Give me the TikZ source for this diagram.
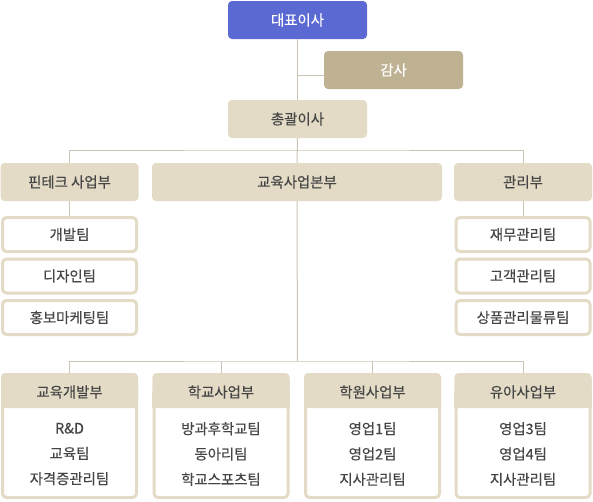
\documentclass[tikz,border=0pt]{standalone}
\usepackage{fontspec}
\setmainfont{Noto Sans CJK KR}[FakeBold=0.35]
\usepackage{xcolor}
\usetikzlibrary{positioning}

\definecolor{ceoblue}{HTML}{5B69D3}
\definecolor{audittan}{HTML}{BFB293}
\definecolor{beige}{HTML}{E3DBC6}
\definecolor{inkgray}{HTML}{454545}
\definecolor{linkgray}{HTML}{CBC4B4}

\begin{document}
\begin{tikzpicture}[
            x=1pt, y=-1pt,
            font=\fontsize{14.4}{25.3}\selectfont,
            orgtop/.style={rounded corners=4pt, minimum width=139pt,
            minimum height=38pt, align=center},
            orgdept/.style={fill=beige, text=inkgray, rounded corners=4pt,
            minimum height=38pt, minimum width=138pt},
            orgteam/.style={draw=beige, line width=3pt, fill=white, text=inkgray,
            rounded corners=4pt, minimum width=134pt, minimum height=34pt},
            orgunit/.style={draw=beige, line width=3pt, fill=white,
            rounded corners=4pt, minimum width=134pt, minimum height=123pt},
            orgunithead/.style={fill=beige, text=inkgray, rounded corners=4pt,
            minimum width=137pt, minimum height=35pt},
            orglist/.style={text=inkgray, align=center},
            orglink/.style={draw=linkgray, line width=1pt}
        ]
            \useasboundingbox (0,0) rectangle (593,501);

% --- executives ---
            \node[orgtop, fill=ceoblue, text=white]         (ceo)   at (297.5,20)  {대표이사};
            \node[orgtop, fill=audittan, text=white]        (audit) at (393.5,70)  {감사};
            \node[orgtop, fill=beige, text=inkgray]         (coo)   at (297.5,119) {총괄이사};

% --- divisions ---
            \node[orgdept]                                  (fin)   at (69.5,182)  {핀테크 사업부};
            \node[orgdept, minimum width=290pt]             (edu)   at (297,182)   {교육사업본부};
            \node[orgdept]                                  (mgmt)  at (523,182)   {관리부};

% --- fintech teams ---
            \node[orgteam]                                  (dev)    at (69.5,234.5) {개발팀};
            \node[orgteam]                                  (design) at (69.5,276)   {디자인팀};
            \node[orgteam]                                  (promo)  at (69.5,317.5) {홍보마케팅팀};

% --- management teams ---
            \node[orgteam]                                  (acct)   at (523,234.5) {재무관리팀};
            \node[orgteam]                                  (client) at (523,276)   {고객관리팀};
            \node[orgteam]                                  (goods)  at (523,317.5) {상품관리물류팀};

% --- education units: body, header, team list ---
            \foreach \name/\cx/\title/\teams in {
                edudev/69.5/교육개발부/{R\&D\\교육팀\\자격증관리팀},
                school/221/학교사업부/{방과후학교팀\\동아리팀\\학교스포츠팀},
                academy/372.5/학원사업부/{영업1팀\\영업2팀\\지사관리팀},
                kids/523/유아사업부/{영업3팀\\영업4팀\\지사관리팀}} {
                \node[orgunit]     (\name)      at (\cx,436)   {};
                \node[orgunithead] (\name head) at (\cx,390.5) {};
                \fill[beige] (\name head.west) rectangle (\name head.south east);
                \node[text=inkgray] at ([yshift=-1.5pt]\name head.center) {\title};
                \node[orglist]     (\name list) at (\cx,454)   {\teams};
            }

% --- connectors ---
            \coordinate (audit branch) at (297.5,75);
            \coordinate (top bus) at (297.5,150);
            \coordinate (low bus) at (297.5,361);
            \draw[orglink] (ceo.south) -- (coo.north);
            \draw[orglink] (audit branch) -- (audit branch -| audit.west);
            \draw[orglink] (coo.south) -- (edu.north);
            \draw[orglink] (fin.north) |- (top bus) -| (mgmt.north);
            \draw[orglink] (fin.south) -- (dev.north);
            \draw[orglink] (mgmt.south) -- (acct.north);
            \draw[orglink] (edu.south) -- (low bus);
            \draw[orglink] (edudev.north) |- (low bus) -| (kids.north);
            \draw[orglink] (school.north) -- (school.north |- low bus);
            \draw[orglink] (academy.north) -- (academy.north |- low bus);
        \end{tikzpicture}
\end{document}
